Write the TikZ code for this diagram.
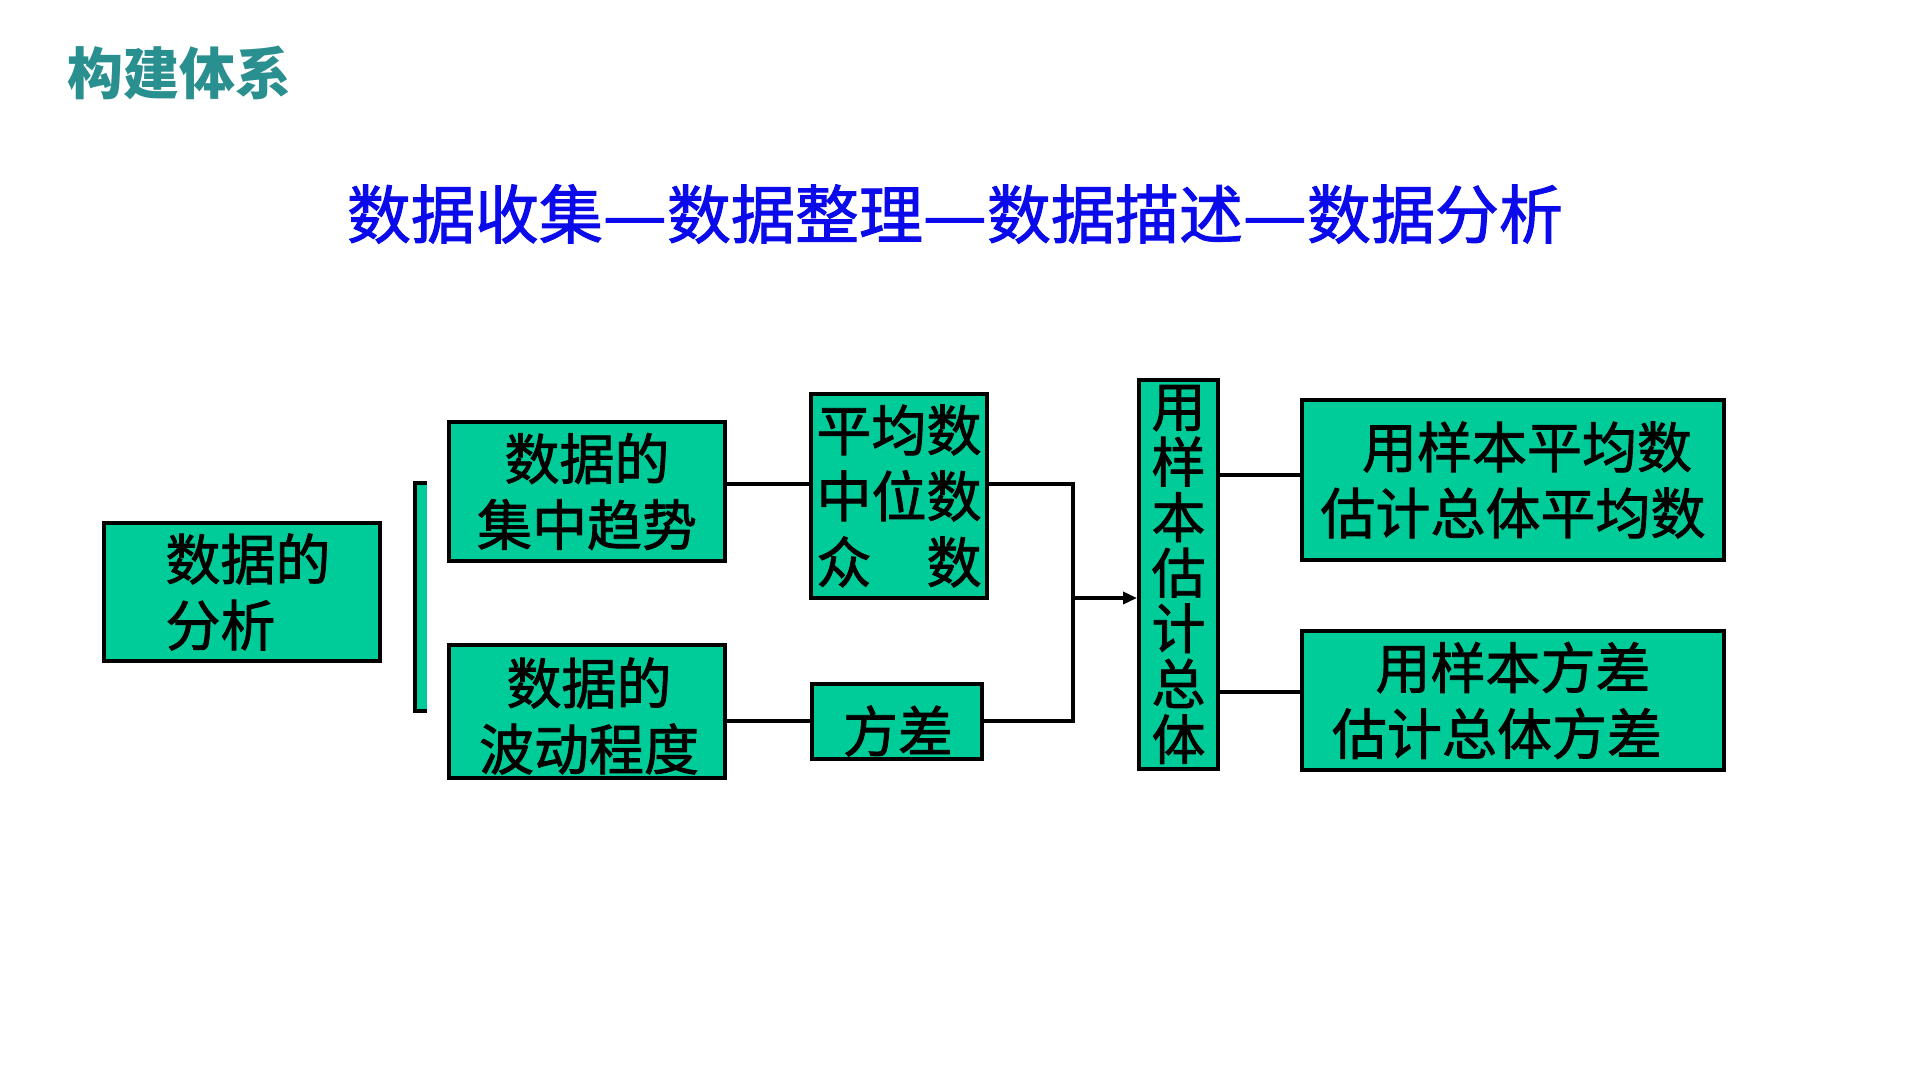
\documentclass[tikz,border=0pt]{standalone}
\usepackage{fontspec}
\usepackage{graphicx}
\setmainfont{Noto Sans CJK SC}
\newfontfamily\heavy{Noto Sans CJK SC}[FakeBold=1.5]
\usetikzlibrary{arrows.meta}
\definecolor{boxgreen}{RGB}{0,204,153}
\definecolor{titleteal}{RGB}{42,143,143}
\definecolor{headblue}{RGB}{10,10,235}
\newcommand{\longdash}{\makebox[1em]{\scalebox{1.12}[1]{—}}}
\begin{document}
\begin{tikzpicture}[x=0.5pt,y=-0.5pt,
  box/.style={draw=black, line width=2pt, fill=boxgreen, inner sep=0pt, align=center,
    font=\heavy\fontsize{27.5pt}{33pt}\selectfont},
  boxtext/.style={inner sep=0pt, align=center, font=\heavy\fontsize{27.5pt}{33pt}\selectfont},
  conn/.style={draw=black, line width=1.8pt},
  arr/.style={conn, -{Triangle[length=7pt,width=6pt]}},
  ]
\useasboundingbox[fill=white] (0,0) rectangle (1920,1080);
\node[anchor=west, text=titleteal, inner sep=0pt, font=\fontsize{28pt}{30pt}\selectfont\bfseries] (title) at (67,73) {构建体系};
\node[text=headblue, inner sep=0pt, font=\heavy\fontsize{32pt}{34pt}\selectfont] (head) at (955,214) {数据收集\longdash 数据整理\longdash 数据描述\longdash 数据分析};

\node[box, align=left, minimum width=138pt, minimum height=69pt] (analysis) at (242,592) {\hspace*{6pt}数据的\\\hspace*{6pt}分析};
\fill[boxgreen] (415,483) rectangle (427,711);
\draw[line width=2pt] (427,483) -- (415,483) -- (415,711) -- (427,711);

\node[box, minimum width=138pt, minimum height=69.5pt] (conc) at (587,491.5) {数据的\\集中趋势};
\node[box, minimum width=138pt, minimum height=66.5pt] (spread) at (587,711.5) {};
\node[boxtext] (spreadtext) at (589,716) {数据的\\波动程度};
\node[box, minimum width=88pt, minimum height=102pt] (mean) at (899,496) {平均数\\中位数\\众\hspace{1em}数};
\node[box, minimum width=85pt, minimum height=37.5pt] (var) at (897,721.5) {};
\node[boxtext] (vartext) at (898,731) {方差};
\node[box, minimum width=39.5pt, minimum height=194.5pt, font=\heavy\fontsize{27pt}{27.75pt}\selectfont] (vert) at (1178.5,574.5) {用\\样\\本\\估\\计\\总\\体};
\node[box, minimum width=211pt, minimum height=80pt] (estmean) at (1513,480) {\hspace*{14pt}用样本平均数\\估计总体平均数};
\node[box, minimum width=211pt, minimum height=69.5pt] (estvar) at (1513,700.5) {用样本方差\\估计总体方差\hspace*{16pt}};

\coordinate (r1) at (0,484);
\coordinate (r2) at (0,721);
\coordinate (jx) at (1073,598);
\coordinate (r3) at (0,475);
\coordinate (r4) at (0,692);

\draw[conn] (conc.east |- r1) -- (mean.west |- r1);
\draw[conn] (spread.east |- r2) -- (var.west |- r2);
\draw[conn] (mean.east |- r1) -| (jx) |- (var.east |- r2);
\draw[arr] (jx) -- (vert.west |- jx);
\draw[conn] (vert.east |- r3) -- (estmean.west |- r3);
\draw[conn] (vert.east |- r4) -- (estvar.west |- r4);
\end{tikzpicture}
\end{document}
